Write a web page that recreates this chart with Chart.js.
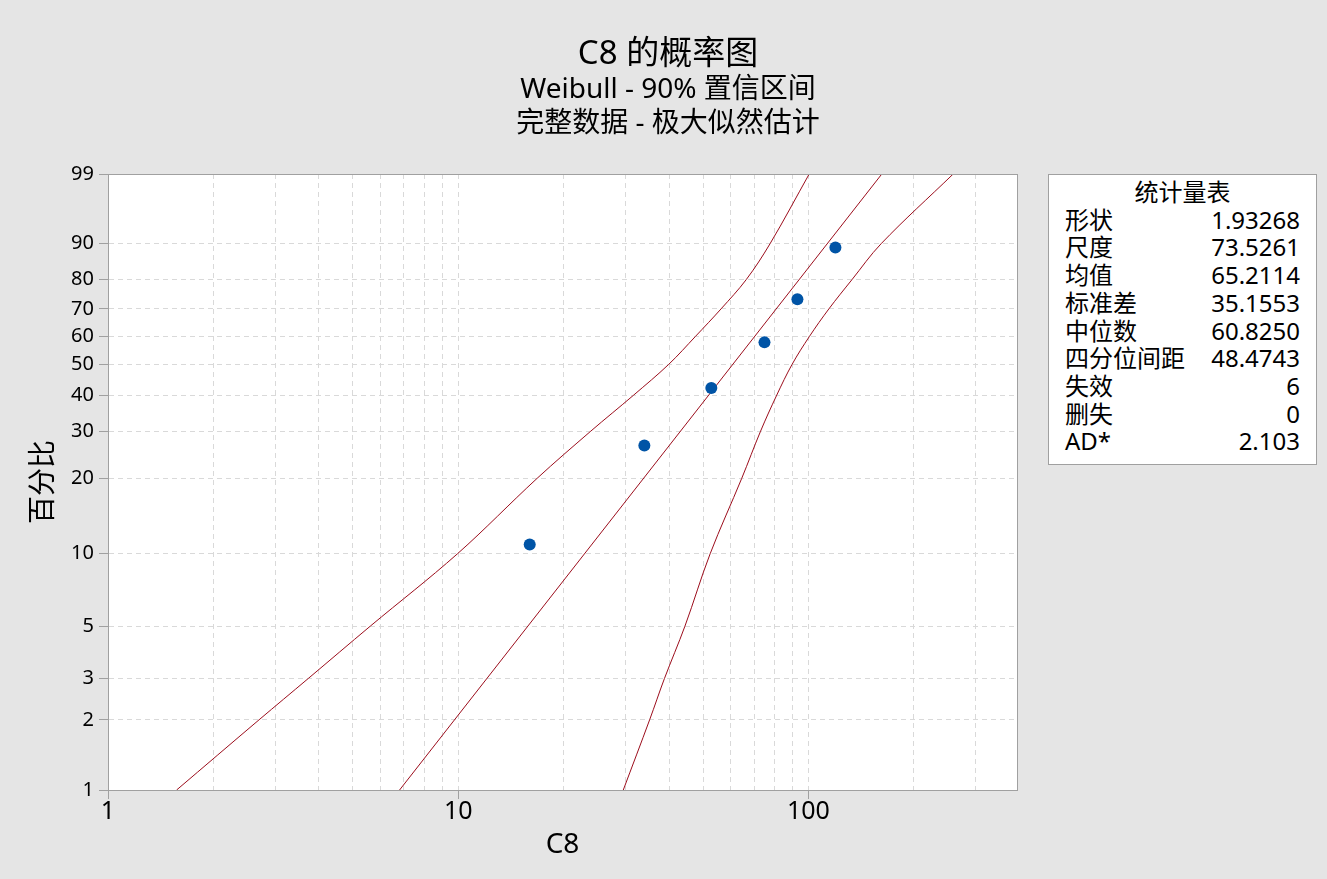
<!DOCTYPE html>
<html lang="zh-CN">
<head>
<meta charset="utf-8">
<title>C8 的概率图</title>
<script src="https://cdn.jsdelivr.net/npm/chart.js@4.4.1/dist/chart.umd.min.js"></script>
<style>
  html, body { margin: 0; padding: 0; background: #e5e5e5; }
  body { width: 1327px; height: 879px; position: relative; overflow: hidden;
         font-family: "Noto Sans", "Noto Sans CJK SC", sans-serif; color: #000; }
  #chart { position: absolute; left: 0; top: 0; }
  .ttl { position: absolute; left: 0; width: 1336px; text-align: center; white-space: nowrap; }
  #t1 { top: 35px; font-size: 33px; line-height: 34px; }
  #t2 { top: 72px; font-size: 28px; line-height: 30px; }
  #t3 { top: 106px; font-size: 28px; line-height: 30px; }
  #stats { position: absolute; left: 1048px; top: 174px; width: 269px; height: 291px;
           box-sizing: border-box; border: 1px solid #a0a0a0; background: #fff;
           padding: 3px 16px 0 16px; font-size: 24px; line-height: 27.7px; }
  #stats .head { text-align: center; }
  #stats .row { display: flex; justify-content: space-between; white-space: nowrap; }
</style>
</head>
<body>
<canvas id="chart" width="1327" height="879"></canvas>
<div class="ttl" id="t1">C8 的概率图</div>
<div class="ttl" id="t2">Weibull - 90% 置信区间</div>
<div class="ttl" id="t3">完整数据 - 极大似然估计</div>
<div id="stats"></div>
<script>
// tick positions
const xTickValues = [1, 2, 3, 4, 5, 6, 7, 8, 9, 10, 20, 30, 40, 50, 60, 70, 80, 90, 100, 200, 300];
const xTickLabels = [1, 10, 100];
const yTickValues = [1, 2, 3, 5, 10, 20, 30, 40, 50, 60, 70, 80, 90, 99];

// failure times and plotting positions (%)
const failX = [16.0, 34.0, 52.8, 74.9, 93.0, 119.4];
const failPct = [10.9, 26.6, 42.2, 57.8, 73.4, 89.1];

// fitted line (straight on this paper)
const fitX = [6.8, 162];
const fitPct = [1, 99];

// 90% confidence band
const bandPct = [1, 2, 3, 5, 10, 20, 30, 40, 50, 60, 70, 80, 90, 99];
const bandLowX = [1.57, 2.70, 3.73, 5.61, 9.95, 16.8, 23.9, 31.7, 39.9, 47.6, 56.3, 66.4, 77.7, 100.5];
const bandHighX = [29.6, 35.2, 38.8, 44.4, 52.4, 64.5, 73.0, 81.2, 89.8, 100.7, 114.4, 133.1, 161.3, 259];

// statistics table
const statNames = ['形状', '尺度', '均值', '标准差', '中位数', '四分位间距', '失效', '删失', 'AD*'];
const statValues = ['1.93268', '73.5261', '65.2114', '35.1553', '60.8250', '48.4743', '6', '0', '2.103'];

const stats = document.getElementById('stats');
stats.innerHTML = '<div class="head">统计量表</div>' +
  statNames.map((n, i) => '<div class="row"><span>' + n + '</span><span>' + statValues[i] + '</span></div>').join('');

// weibull probability axis: ln(-ln(1-p))
const tf = p => Math.log(-Math.log(1 - p / 100));

class WeibullScale extends Chart.Scale {
  determineDataLimits() {
    this.min = this.options.min;
    this.max = this.options.max;
  }
  buildTicks() {
    return yTickValues.map(v => ({value: v}));
  }
  configure() {
    super.configure();
    this._t0 = tf(this.min);
    this._t1 = tf(this.max);
  }
  getPixelForValue(v) {
    return this.getPixelForDecimal((tf(v) - this._t0) / (this._t1 - this._t0));
  }
  getValueForPixel(px) {
    const t = this._t0 + this.getDecimalForPixel(px) * (this._t1 - this._t0);
    return 100 * (1 - Math.exp(-Math.exp(t)));
  }
  getLabelForValue(v) {
    return String(v);
  }
}
WeibullScale.id = 'weibull';
WeibullScale.defaults = {};
Chart.register(WeibullScale);

const pts = (xs, ys) => xs.map((x, i) => ({x: x, y: ys[i]}));

const lineRed = '#9c0d1c';
const gridGray = '#d9d9d9';
const axisGray = '#a0a0a0';

const plotFrame = {
  id: 'plotFrame',
  beforeDraw(chart) {
    const ca = chart.chartArea, ctx = chart.ctx;
    ctx.save();
    ctx.fillStyle = '#fff';
    ctx.fillRect(ca.left, ca.top, ca.right - ca.left, ca.bottom - ca.top);
    ctx.restore();
  },
  afterDraw(chart) {
    const ca = chart.chartArea, ctx = chart.ctx;
    ctx.save();
    ctx.strokeStyle = axisGray;
    ctx.lineWidth = 1;
    ctx.strokeRect(Math.round(ca.left) + 0.5, Math.round(ca.top) + 0.5,
      Math.round(ca.right - ca.left), Math.round(ca.bottom - ca.top));
    ctx.restore();
  }
};

new Chart(document.getElementById('chart'), {
  type: 'scatter',
  data: {
    datasets: [{
      data: pts(failX, failPct),
      pointRadius: 6,
      pointBackgroundColor: '#0054a6',
      pointBorderWidth: 0
    }, {
      data: pts(fitX, fitPct),
      showLine: true,
      borderColor: lineRed,
      borderWidth: 1,
      pointRadius: 0
    }, {
      data: pts(bandLowX, bandPct),
      showLine: true,
      borderColor: lineRed,
      borderWidth: 1,
      pointRadius: 0,
      tension: 0.35
    }, {
      data: pts(bandHighX, bandPct),
      showLine: true,
      borderColor: lineRed,
      borderWidth: 1,
      pointRadius: 0,
      tension: 0.35
    }]
  },
  options: {
    responsive: false,
    animation: false,
    events: [],
    layout: {padding: {top: 174, right: 310, left: 0, bottom: 0}},
    plugins: {
      legend: {display: false},
      tooltip: {enabled: false}
    },
    scales: {
      x: {
        type: 'logarithmic',
        min: 1,
        max: 394,
        afterBuildTicks: s => { s.ticks = xTickValues.map(v => ({value: v})); },
        afterFit: s => { s.height = 89; },
        grid: {
          color: gridGray,
          tickLength: 9,
          tickColor: c => (c.tick && xTickLabels.includes(c.tick.value)) ? axisGray : 'rgba(0,0,0,0)'
        },
        border: {display: true, color: axisGray, dash: [5, 4]},
        ticks: {
          autoSkip: false,
          maxRotation: 0,
          padding: 0,
          color: '#000',
          font: {family: '"Noto Sans", "Noto Sans CJK SC"', size: 25, lineHeight: 1},
          callback: v => xTickLabels.includes(v) ? String(v) : ''
        },
        title: {
          display: true,
          text: 'C8',
          color: '#000',
          font: {family: '"Noto Sans", "Noto Sans CJK SC"', size: 28},
          padding: {top: 0, bottom: 17}
        }
      },
      y: {
        type: 'weibull',
        min: 1,
        max: 99,
        afterFit: s => { s.width = 108; },
        grid: {color: gridGray, tickLength: 9, tickColor: axisGray},
        border: {display: true, color: axisGray, dash: [5, 4]},
        ticks: {
          autoSkip: false,
          padding: 5,
          color: '#000',
          font: {family: '"Noto Sans", "Noto Sans CJK SC"', size: 20},
          callback: v => String(v)
        },
        title: {
          display: true,
          text: '百分比',
          color: '#000',
          font: {family: '"Noto Sans CJK SC", "Noto Sans"', size: 28},
          padding: {top: 25, bottom: 0}
        }
      }
    }
  },
  plugins: [plotFrame]
});
</script>
</body>
</html>
